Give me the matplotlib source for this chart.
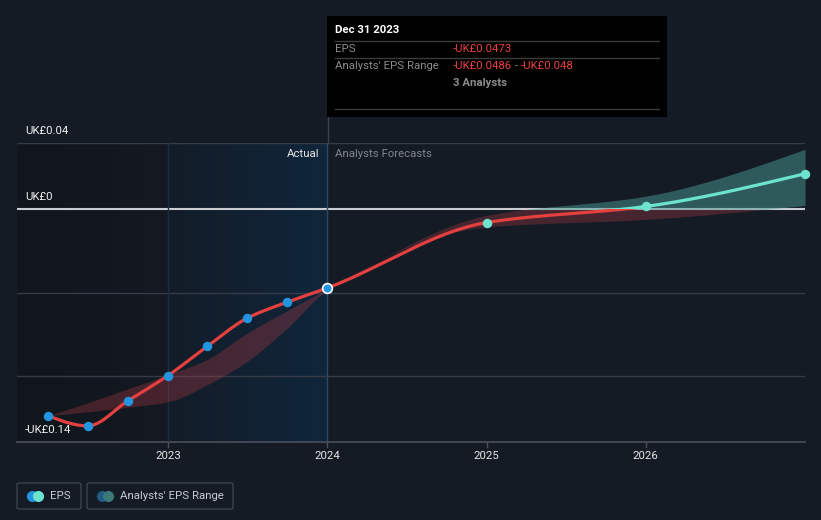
import numpy as np
import pandas as pd
import matplotlib
matplotlib.use("Agg")
import matplotlib.pyplot as plt
from matplotlib.patches import Rectangle, FancyBboxPatch
from matplotlib.lines import Line2D
from matplotlib.colors import LinearSegmentedColormap

plt.rcParams['font.family'] = ['Roboto', 'DejaVu Sans']

# ---------------- data ----------------
hist_dates = ["2022-03-31", "2022-06-30", "2022-09-30", "2022-12-31",
              "2023-03-31", "2023-06-30", "2023-09-30", "2023-12-31"]
eps_actual = [-0.1242, -0.1303, -0.1152, -0.1000, -0.0824, -0.0655, -0.0558, -0.0473]
hist_range_low = [-0.1242, -0.1218, -0.1190, -0.1158, -0.1055, -0.0915, -0.0715, -0.0486]
hist_range_high = [-0.1242, -0.1164, -0.1080, -0.0994, -0.0903, -0.0745, -0.0610, -0.0480]

fc_dates = ["2024-12-31", "2025-12-31", "2026-12-31"]
eps_forecast = [-0.0079, 0.0018, 0.0215]
fc_range_low = [-0.0105, -0.0060, 0.0024]
fc_range_high = [-0.0036, 0.0080, 0.0362]

year_ticks = [2023, 2024, 2025, 2026]
y_labels = {0.04: "UK£0.04", 0.0: "UK£0", -0.14: "-UK£0.14"}
grid_vals = [0.04, -0.05, -0.10]

tooltip_date = "Dec 31 2023"
tooltip_eps = "-UK£0.0473"
tooltip_low = "-UK£0.0486"
tooltip_high = "-UK£0.048"
tooltip_analysts = "3 Analysts"


def dec_year(s):
    d = pd.Timestamp(s) + pd.Timedelta(days=1)
    start = pd.Timestamp(year=d.year, month=1, day=1)
    end = pd.Timestamp(year=d.year + 1, month=1, day=1)
    return d.year + (d - start) / (end - start)


def mono_cubic(x, y, xn):
    x = np.asarray(x, float); y = np.asarray(y, float)
    n = len(x)
    h = np.diff(x); d = np.diff(y) / h
    m = np.zeros(n)
    for k in range(1, n - 1):
        if d[k - 1] * d[k] <= 0:
            m[k] = 0.0
        else:
            w1 = 2 * h[k] + h[k - 1]; w2 = h[k] + 2 * h[k - 1]
            m[k] = (w1 + w2) / (w1 / d[k - 1] + w2 / d[k])
    m[0] = (3 * d[0] - m[1]) / 2 if n > 2 else d[0]
    m[-1] = (3 * d[-1] - m[-2]) / 2 if n > 2 else d[-1]
    out = np.empty_like(xn)
    idx = np.clip(np.searchsorted(x, xn) - 1, 0, n - 2)
    for i, xv in enumerate(xn):
        k = idx[i]
        t = (xv - x[k]) / h[k]
        h00 = 2 * t**3 - 3 * t**2 + 1
        h10 = t**3 - 2 * t**2 + t
        h01 = -2 * t**3 + 3 * t**2
        h11 = t**3 - t**2
        out[i] = h00 * y[k] + h10 * h[k] * m[k] + h01 * y[k + 1] + h11 * h[k] * m[k + 1]
    return out


hx = np.array([dec_year(s) for s in hist_dates])
fx = np.array([dec_year(s) for s in fc_dates])
all_x = np.concatenate([hx, fx])
all_eps = np.concatenate([eps_actual, eps_forecast])
all_lo = np.concatenate([hist_range_low, fc_range_low])
all_hi = np.concatenate([hist_range_high, fc_range_high])

W, H = 821, 520
BG = "#151b25"
FS = 8.2
fig = plt.figure(figsize=(W / 100, H / 100), dpi=100, facecolor=BG)


def fx_(px):
    return px / W


def fy_(py):
    return 1 - py / H


ax_l, ax_r, ax_t, ax_b = 17, 805, 143, 442
ax = fig.add_axes([fx_(ax_l), fy_(ax_b), (ax_r - ax_l) / W, (ax_b - ax_t) / H])
ax.set_facecolor(BG)
XMIN = 2023 - (168 - ax_l) / 159.2
XMAX = 2027.0
YMIN, YMAX = -0.14, 0.04
for s in ax.spines.values():
    s.set_visible(False)
ax.set_yticks([])
ax.set_xticks([])

# background regions
grad = np.linspace(0, 1, 256).reshape(1, -1)
cm_left = LinearSegmentedColormap.from_list("l", ["#11151c", "#141922"])
cm_mid = LinearSegmentedColormap.from_list("m", ["#131c28", "#10263b"])
ax.imshow(grad, cmap=cm_left, aspect="auto", extent=[XMIN, 2023, YMIN, YMAX], zorder=0)
ax.imshow(grad, cmap=cm_mid, aspect="auto", extent=[2023, 2024, YMIN, YMAX], zorder=0)
ax.set_xlim(XMIN, XMAX)
ax.set_ylim(YMIN, YMAX)

# grid
for g in grid_vals:
    ax.axhline(g, color="#363c47", lw=1, zorder=1)
ax.axhline(0, color="#c9ccd1", lw=1.5, zorder=1)
ax.axhline(YMIN, color="#4a4f59", lw=1.2, zorder=1, clip_on=False)
ax.axvline(2023, color="#172d42", lw=1, zorder=1)
ax.axvline(2024, color="#2a4a66", lw=1, zorder=1)
fig.add_artist(Line2D([fx_(327.5), fx_(327.5)], [fy_(117), fy_(ax_t)], color="#3a4350", lw=1))

# x ticks
for yr in year_ticks:
    ax.plot([yr, yr], [YMIN, YMIN - 0.003], color="#4a4f59", lw=1, clip_on=False)
    ax.text(yr, YMIN - 0.0085, str(yr), color="#e6e6e6", fontsize=FS,
            ha="center", va="center", clip_on=False)

# y labels
for v, lab in y_labels.items():
    ax.text(XMIN + 0.05, v + 0.0075, lab, color="#f0f0f0", fontsize=FS,
            ha="left", va="center", zorder=6)

# smoothed curves
xn = np.linspace(all_x[0], all_x[-1], 800)
eps_s = mono_cubic(all_x, all_eps, xn)
lo_s = mono_cubic(all_x, all_lo, xn)
hi_s = mono_cubic(all_x, all_hi, xn)

RED = "#e3403f"
TEAL = "#6be3cf"
ax.fill_between(xn, np.minimum(lo_s, 0), np.minimum(hi_s, 0), color="#b03a45", alpha=0.33, lw=0, zorder=2)
ax.fill_between(xn, np.maximum(lo_s, 0), np.maximum(hi_s, 0), color="#4a9a92", alpha=0.5, lw=0, zorder=2)

l1, = ax.plot(xn, eps_s, color=RED, lw=2.3, zorder=4, solid_capstyle="round")
l1.set_clip_path(Rectangle((XMIN, -1), XMAX - XMIN, 1, transform=ax.transData))
l2, = ax.plot(xn, eps_s, color=TEAL, lw=2.3, zorder=4, solid_capstyle="round")
l2.set_clip_path(Rectangle((XMIN, 0), XMAX - XMIN, 1, transform=ax.transData))

BLUE = "#2394e0"
ax.plot(hx[:-1], eps_actual[:-1], "o", color=BLUE, ms=6.8, mec="none", zorder=5)
ax.plot(hx[-1], eps_actual[-1], "o", color=BLUE, ms=7, mec="white", mew=1.2, zorder=5)
ax.plot(fx, eps_forecast, "o", color=TEAL, ms=6.8, mec="none", zorder=5, clip_on=False)

# Actual / Forecast labels
fig.text(fx_(319), fy_(154), "Actual", color="#e6e6e6", fontsize=FS, ha="right", va="center")
fig.text(fx_(335), fy_(154), "Analysts Forecasts", color="#80858e", fontsize=FS, ha="left", va="center")

# tooltip
fig.add_artist(Rectangle((fx_(327), fy_(117)), (667 - 327) / W, (117 - 16) / H,
                         transform=fig.transFigure, facecolor="#000000", edgecolor="none", zorder=10))
for yy in (41, 58, 109):
    fig.add_artist(Line2D([fx_(335), fx_(659)], [fy_(yy), fy_(yy)], color="#3b3b3b", lw=1, zorder=11))
fig.text(fx_(335), fy_(30), tooltip_date, color="#ffffff", fontsize=FS, fontweight="bold",
         ha="left", va="center", zorder=12)
fig.text(fx_(335), fy_(48.5), "EPS", color="#8c8c8c", fontsize=FS, ha="left", va="center", zorder=12)
fig.text(fx_(453), fy_(48.5), tooltip_eps, color="#e8413f", fontsize=FS, ha="left", va="center", zorder=12)
fig.text(fx_(335), fy_(66), "Analysts' EPS Range", color="#8c8c8c", fontsize=FS, ha="left", va="center", zorder=12)
t1 = fig.text(fx_(453), fy_(66), tooltip_low, color="#e8413f", fontsize=FS, ha="left", va="center", zorder=12)
fig.canvas.draw()
r = fig.canvas.get_renderer()
bb = t1.get_window_extent(renderer=r)
t2 = fig.text(bb.x1 / W, fy_(66), " - ", color="#8c8c8c", fontsize=FS, ha="left", va="center", zorder=12)
bb2 = t2.get_window_extent(renderer=r)
fig.text(bb2.x1 / W, fy_(66), tooltip_high, color="#e8413f", fontsize=FS, ha="left", va="center", zorder=12)
fig.text(fx_(453), fy_(83), tooltip_analysts, color="#8c8c8c", fontsize=FS, fontweight="bold",
         ha="left", va="center", zorder=12)


# legend
def box(x0, x1, y0, y1):
    fig.add_artist(FancyBboxPatch((fx_(x0), fy_(y1)), (x1 - x0) / W, (y1 - y0) / H,
                                  boxstyle="round,pad=0,rounding_size=0.003",
                                  transform=fig.transFigure, facecolor=BG,
                                  edgecolor="#3d424c", lw=1))


box(17, 81, 483, 509)
box(87, 233, 483, 509)
for cx, col in ((32, BLUE), (38, TEAL)):
    fig.add_artist(Line2D([fx_(cx)], [fy_(496)], marker="o", ms=8, color=col, mec="none"))
fig.text(fx_(50), fy_(496), "EPS", color="#c8cbd0", fontsize=FS, ha="left", va="center")
for cx, col in ((102, "#1f5a86"), (108, "#3b7a76")):
    fig.add_artist(Line2D([fx_(cx)], [fy_(496)], marker="o", ms=8, color=col, mec="none"))
fig.text(fx_(120), fy_(496), "Analysts' EPS Range", color="#c8cbd0", fontsize=FS, ha="left", va="center")

fig.savefig("out.png", dpi=100, facecolor=BG)
